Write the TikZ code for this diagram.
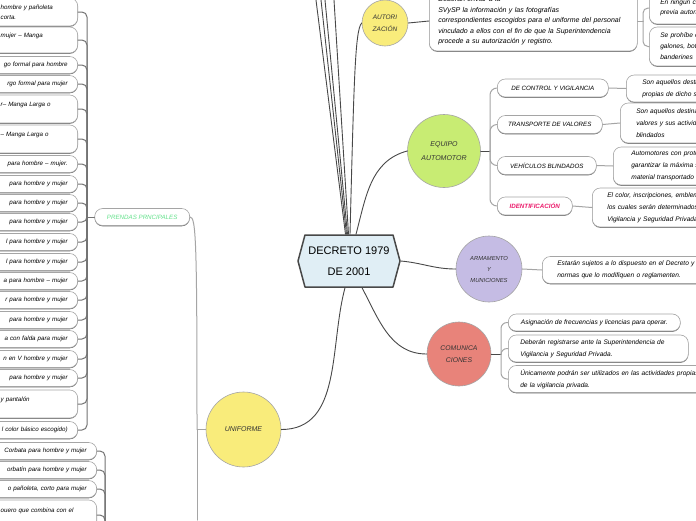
\documentclass[tikz,border=0pt]{standalone}
\usepackage{fontspec}
\setmainfont{Liberation Sans}
\usetikzlibrary{shapes.symbols,shadows}
\definecolor{ffeeqq}{RGB}{249,236,123}
\definecolor{cceett}{RGB}{200,236,115}
\definecolor{ccbbee}{RGB}{197,188,228}
\definecolor{eeuutt}{RGB}{232,131,122}
\definecolor{ddeeff}{RGB}{224,238,245}
\definecolor{wwwwww}{RGB}{72,72,72}
\definecolor{ssssss}{RGB}{165,165,165}
\definecolor{vvvvvv}{RGB}{115,115,115}
\definecolor{ttddmm}{RGB}{100,226,140}
\definecolor{ffqqmm}{RGB}{236,28,108}

\begin{document}
\begin{tikzpicture}[line cap=round,line join=round,x=1pt,y=1pt,
		mainline/.style={draw=wwwwww,line width=0.9pt},
		branch/.style={draw=ssssss,line width=1pt},
		stem/.style={draw=vvvvvv,line width=1pt,rounded corners=5pt},
		circ/.style={circle,draw=ssssss,line width=0.6pt,text=black!80,align=center,inner sep=0pt,font=\fontsize{6.5}{12}\selectfont\itshape},
		tbox/.style={draw=ssssss,fill=white,line width=0.6pt,rounded corners=8pt,inner ysep=2pt,font=\fontsize{6.6}{12}\selectfont\itshape,drop shadow={shadow xshift=0pt,shadow yshift=-0.8pt,fill=black!60,opacity=1}},
		labbox/.style={tbox,anchor=west,minimum height=18pt,font=\fontsize{6.2}{12}\selectfont\itshape},
		detbox/.style={tbox,anchor=west,align=left,text width=230pt,inner xsep=16pt},
		lbox/.style={tbox,anchor=east,inner xsep=10pt,minimum height=17pt,font=\fontsize{6.2}{10}\selectfont\itshape},
		lone/.style={lbox,text width=140pt,align=right},
		ltwo/.style={lbox,align=left,minimum height=28pt}]
		\useasboundingbox (0,0) rectangle (696,-520);
		\clip (0,0) rectangle (696,-520);
		\fill[white] (0,0) rectangle (696,-520);
		% centre
		\node[signal,signal to=west and east,signal pointer angle=150,draw=wwwwww,line width=1.5pt,fill=ddeeff,minimum width=102pt,minimum height=52pt,inner sep=2pt,align=center,font=\fontsize{11}{21}\selectfont] (dec) at (349,-261) {DECRETO 1979\\DE 2001};
		% main topics
		\node[circ,fill=ffeeqq,minimum size=46pt] (aut) at (385,-23) {AUTORI\\ZACIÓN};
		\node[circ,fill=cceett,minimum size=73pt,font=\fontsize{7}{14}\selectfont\itshape] (eq) at (444,-151) {EQUIPO\\AUTOMOTOR};
		\node[circ,fill=ccbbee,minimum size=66pt,font=\fontsize{5.8}{11}\selectfont\itshape] (arm) at (489,-269) {ARMAMENTO\\Y\\MUNICIONES};
		\node[circ,fill=eeuutt,minimum size=64pt,font=\fontsize{6.8}{12}\selectfont\itshape] (com) at (459,-354) {COMUNICA\\CIONES};
		\node[circ,fill=ffeeqq,minimum size=75pt,font=\fontsize{7}{12}\selectfont\itshape] (uni) at (243.5,-429.5) {UNIFORME};
		\coordinate (up1) at (316,0);
		\coordinate (up2) at (321,0);
		\coordinate (up3) at (325,0);
		\coordinate (up4) at (334,0);
		\draw[mainline] ([xshift=-3.5pt]dec.north) -- (up1);
		\draw[mainline] ([xshift=-2.5pt]dec.north) -- (up2);
		\draw[mainline] ([xshift=-1.5pt]dec.north) -- (up3);
		\draw[mainline] ([xshift=-0.5pt]dec.north) -- (up4);
		\draw[mainline] ([xshift=1pt]dec.north) .. controls (354,-80) and (355,-30) .. (aut.west);
		\draw[mainline] ([xshift=7pt]dec.north) to[out=75,in=195] (eq.west);
		\draw[mainline] (dec.east) to[out=-5,in=180] (arm.west);
		\draw[mainline] ([xshift=13pt]dec.south) to[out=-62,in=180] (com.west);
		\draw[mainline] ([xshift=-4pt]dec.south) to[out=-105,in=0] (uni.east);
		% autorizacion
		\node[tbox,anchor=west,align=left,text width=190pt,inner xsep=9pt,minimum height=60pt,font=\fontsize{7}{10.5}\selectfont\itshape] (autdet) at (429,-21) {Deberán enviar a la\\SVySP la información y las fotografías\\correspondientes escogidos para el uniforme del personal\\vinculado a ellos con el fin de que la Superintendencia\\procede a su autorización y registro.};
		\coordinate (autfork) at (643,-21);
		\node[detbox,text width=90pt,inner xsep=11pt,minimum height=32pt,font=\fontsize{6.6}{10.5}\selectfont\itshape] (autno) at (649,-8) {En ningún caso\\previa autorización};
		\node[detbox,text width=90pt,inner xsep=11pt,minimum height=39pt,font=\fontsize{6.6}{11}\selectfont\itshape] (autpro) at (649,-46.5) {Se prohíbe el uso de\\galones, botones\\banderines};
		\draw[mainline] (aut.east) -- (autdet.west);
		\draw[branch] (autdet.east) -- (autfork);
		\draw[branch,rounded corners=5pt] (autfork) |- (autno.west);
		\draw[branch,rounded corners=5pt] (autfork) |- (autpro.west);
		% equipo automotor
		\coordinate (eqfork) at (490,-151);
		\node[labbox,minimum width=111pt] (ctrl) at (497,-88) {DE CONTROL Y VIGILANCIA};
		\node[labbox,minimum width=105pt] (trans) at (497,-124.5) {TRANSPORTE DE VALORES};
		\node[labbox,minimum width=99pt] (veh) at (497,-165.5) {VEHÍCULOS BLINDADOS};
		\node[labbox,minimum width=75pt,text=ffqqmm,font=\fontsize{6.2}{12}\selectfont\itshape\bfseries] (ident) at (497,-206) {IDENTIFICACIÓN};
		\node[detbox,minimum height=27pt] (ctrldet) at (626,-88.5) {Son aquellos destinados a las labores\\propias de dicho servicio};
		\node[detbox,minimum height=40pt] (transdet) at (620,-123) {Son aquellos destinados al transporte de\\valores y sus actividades conexas\\blindados};
		\node[detbox,minimum height=38pt,inner xsep=18pt] (vehdet) at (613,-166) {Automotores con protección balística para\\garantizar la máxima seguridad del\\material transportado};
		\node[detbox,minimum height=39pt,inner xsep=15pt] (identdet) at (592,-207.5) {El color, inscripciones, emblemas y distintivos\\los cuales serán determinados por la\\Vigilancia y Seguridad Privada};
		\draw[mainline] (eq.east) -- (eqfork);
		\draw[branch,rounded corners=7pt] (eqfork) |- (ctrl.west);
		\draw[branch,rounded corners=7pt] (eqfork) |- (trans.west);
		\draw[branch,rounded corners=7pt] (eqfork) |- (veh.west);
		\draw[branch,rounded corners=7pt] (eqfork) |- (ident.west);
		\draw[branch] (ctrl.east) -- (ctrldet.west);
		\draw[branch] (trans.east) -- (transdet.west);
		\draw[branch] (veh.east) -- (vehdet.west);
		\draw[branch] (ident.east) -- (identdet.west);
		% armamento
		\node[detbox,minimum height=27pt,inner xsep=15pt] (armdet) at (542,-270) {Estarán sujetos a lo dispuesto en el Decreto y\\normas que lo modifiquen o reglamenten.};
		\draw[branch] (arm.east) -- (armdet.west);
		% comunicaciones
		\coordinate (comfork) at (501,-354);
		\node[tbox,anchor=west,minimum width=172pt,minimum height=17pt] (comfr) at (508,-322.5) {Asignación de frecuencias y licencias para operar.};
		\node[tbox,anchor=west,align=left,text width=156pt,inner xsep=12pt,minimum height=27pt] (comreg) at (508,-348.5) {Deberán registrarse ante la Superintendencia de\\Vigilancia y Seguridad Privada.};
		\node[detbox,minimum height=27pt,inner xsep=12pt] (comuso) at (508,-379) {Únicamente podrán ser utilizados en las actividades propias\\de la vigilancia privada.};
		\draw[mainline] (com.east) -- (comfork);
		\draw[branch,rounded corners=6pt] (comfork) |- (comfr.west);
		\draw[branch,rounded corners=6pt] (comfork) |- (comreg.west);
		\draw[branch,rounded corners=6pt] (comfork) |- (comuso.west);
		% uniforme
		\coordinate (unifork) at (197,-429.5);
		\coordinate (unidown) at (197,-520);
		\node[tbox,anchor=east,minimum width=95pt,minimum height=17pt,text=ttddmm,font=\fontsize{6.2}{12}\selectfont\itshape] (pren) at (190,-217) {PRENDAS PRNCIPALES};
		\draw[branch] (uni.west) -- (unifork) -- (unidown);
		\draw[branch] (unifork) .. controls (197,-240) and (196,-217) .. (pren.east);
		% prendas principales
		\coordinate (lfork) at (87,-217);
		\node[ltwo,text width=67pt] (la) at (78,-12) {hombre y pañoleta\\corta.};
		\node[ltwo,text width=67pt,minimum height=26pt] (lb) at (78,-40) {mujer -- Manga\\~};
		\node[lone] (lc) at (78,-65) {go formal para hombre};
		\node[lone] (ld) at (78,-84) {rgo formal para mujer};
		\node[ltwo,text width=67pt] (le) at (78,-109) {r-- Manga Larga o\\~};
		\node[ltwo,text width=67pt] (lf) at (78,-139) {-- Manga Larga o\\~};
		\node[lone] (lg) at (78,-164) {para hombre -- mujer.};
		\node[lone] (lh) at (78,-184) {para hombre y mujer};
		\node[lone] (li) at (78,-203) {para hombre y mujer};
		\node[lone] (lj) at (78,-222) {para hombre y mujer};
		\node[lone] (lk) at (78,-242) {l para hombre y mujer};
		\node[lone] (ll) at (78,-262) {l para hombre y mujer};
		\node[lone] (lm) at (78,-281) {a para hombre -- mujer};
		\node[lone] (ln) at (78,-300) {r para hombre y mujer};
		\node[lone] (lo) at (78,-320) {para hombre y mujer};
		\node[lone] (lp) at (78,-339) {a con falda para mujer};
		\node[lone] (lq) at (78,-359) {n en V hombre y mujer};
		\node[lone] (lr) at (78,-378) {para hombre y mujer};
		\node[ltwo,text width=67pt] (ls) at (78,-404) {y pantalón\\~};
		\node[lone] (lt) at (78,-430) {l color básico escogido)};
		\draw[stem] (pren.west) -- (lfork);
		\draw[stem] (lfork) |- (la.east);
		\draw[stem] (lfork) |- (lb.east);
		\draw[stem] (lfork) |- (lc.east);
		\draw[stem] (lfork) |- (ld.east);
		\draw[stem] (lfork) |- (le.east);
		\draw[stem] (lfork) |- (lf.east);
		\draw[stem] (lfork) |- (lg.east);
		\draw[stem] (lfork) |- (lh.east);
		\draw[stem] (lfork) |- (li.east);
		\draw[stem] (lfork) |- (lj.east);
		\draw[stem] (lfork) |- (lk.east);
		\draw[stem] (lfork) |- (ll.east);
		\draw[stem] (lfork) |- (lm.east);
		\draw[stem] (lfork) |- (ln.east);
		\draw[stem] (lfork) |- (lo.east);
		\draw[stem] (lfork) |- (lp.east);
		\draw[stem] (lfork) |- (lq.east);
		\draw[stem] (lfork) |- (lr.east);
		\draw[stem] (lfork) |- (ls.east);
		\draw[stem] (lfork) |- (lt.east);
		% accesorios
		\coordinate (lowfork) at (105,-530);
		\node[lone] (ma) at (97,-451) {Corbata para hombre y mujer};
		\node[lone] (mb) at (97,-470) {orbatín para hombre y mujer};
		\node[lone] (mc) at (97,-489) {o pañoleta, corto para mujer};
		\node[ltwo,text width=86pt,minimum height=30pt] (md) at (97,-515) {ouero que combina con el\\~};
		\draw[stem] (lowfork) |- (ma.east);
		\draw[stem] (lowfork) |- (mb.east);
		\draw[stem] (lowfork) |- (mc.east);
		\draw[stem] (lowfork) |- (md.east);
	\end{tikzpicture}
\end{document}
